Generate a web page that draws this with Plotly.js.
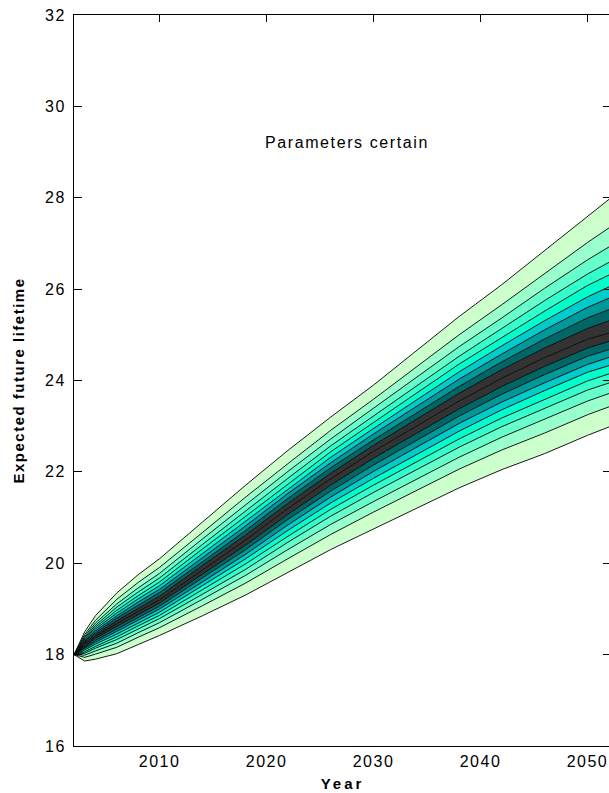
<!DOCTYPE html>
<html>
<head>
<meta charset="utf-8">
<script src="https://cdn.plot.ly/plotly-3.0.1.min.js"></script>
<style>
  html, body { margin: 0; padding: 0; overflow: hidden; background: #fff; }
  #chart { width: 621px; height: 793px; }
  .xtick text, .ytick text { letter-spacing: 1.5px; }
  .annotation-text { letter-spacing: 1.6px; }
  .g-xtitle text { letter-spacing: 3px; }
  .g-ytitle text { letter-spacing: 1.5px; }
  /* the reference carries x tick marks only on the top frame edge: keep the upper half of each tick path */
  path.xtick { clip-path: polygon(-10px -10px, 10px -10px, 10px 50%, -10px 50%) fill-box; }
</style>
</head>
<body>
<div id="chart"></div>
<script>
// ---- data ----
const years = [2002, 2003, 2004, 2006, 2008, 2010, 2014, 2018, 2022, 2026, 2030, 2034, 2038, 2042, 2046, 2050, 2052.2];

const q05 = [18, 17.86, 17.90, 18.02, 18.22, 18.42, 18.85, 19.30, 19.80, 20.30, 20.75, 21.20, 21.65, 22.05, 22.40, 22.80, 23.00];
const q10 = [18, 17.94, 18.01, 18.16, 18.38, 18.59, 19.07, 19.56, 20.10, 20.63, 21.12, 21.59, 22.06, 22.48, 22.85, 23.25, 23.44];
const q15 = [18, 17.99, 18.08, 18.25, 18.48, 18.70, 19.21, 19.73, 20.30, 20.85, 21.35, 21.84, 22.32, 22.76, 23.15, 23.55, 23.73];
const q20 = [18, 18.03, 18.14, 18.33, 18.56, 18.79, 19.32, 19.86, 20.46, 21.03, 21.55, 22.05, 22.54, 22.99, 23.39, 23.79, 23.96];
const q25 = [18, 18.06, 18.18, 18.39, 18.63, 18.86, 19.42, 19.98, 20.59, 21.18, 21.71, 22.22, 22.72, 23.18, 23.59, 23.99, 24.16];
const q30 = [18, 18.10, 18.23, 18.45, 18.69, 18.93, 19.51, 20.09, 20.72, 21.32, 21.86, 22.38, 22.89, 23.36, 23.78, 24.18, 24.34];
const q35 = [18, 18.13, 18.27, 18.51, 18.75, 19.00, 19.59, 20.19, 20.84, 21.45, 22.01, 22.53, 23.06, 23.53, 23.95, 24.35, 24.52];
const q40 = [18, 18.16, 18.31, 18.56, 18.81, 19.06, 19.68, 20.29, 20.96, 21.58, 22.15, 22.69, 23.22, 23.70, 24.13, 24.53, 24.69];
const q45 = [18, 18.19, 18.36, 18.62, 18.88, 19.13, 19.76, 20.39, 21.07, 21.71, 22.30, 22.84, 23.38, 23.87, 24.31, 24.71, 24.87];
const q50 = [18, 18.22, 18.40, 18.68, 18.94, 19.20, 19.85, 20.50, 21.20, 21.85, 22.45, 23.00, 23.55, 24.05, 24.50, 24.90, 25.05];
const q55 = [18, 18.25, 18.44, 18.74, 19.01, 19.28, 19.95, 20.61, 21.31, 21.97, 22.58, 23.15, 23.72, 24.24, 24.71, 25.14, 25.32];
const q60 = [18, 18.27, 18.48, 18.80, 19.08, 19.36, 20.03, 20.71, 21.42, 22.09, 22.70, 23.29, 23.87, 24.41, 24.91, 25.37, 25.57];
const q65 = [18, 18.29, 18.52, 18.85, 19.15, 19.43, 20.12, 20.81, 21.53, 22.20, 22.83, 23.43, 24.03, 24.58, 25.11, 25.60, 25.82];
const q70 = [18, 18.32, 18.56, 18.91, 19.22, 19.51, 20.21, 20.91, 21.63, 22.32, 22.95, 23.57, 24.19, 24.76, 25.31, 25.83, 26.07];
const q75 = [18, 18.34, 18.60, 18.97, 19.29, 19.59, 20.31, 21.02, 21.74, 22.44, 23.08, 23.72, 24.36, 24.94, 25.52, 26.08, 26.33];
const q80 = [18, 18.37, 18.64, 19.04, 19.37, 19.68, 20.41, 21.14, 21.86, 22.57, 23.22, 23.87, 24.53, 25.14, 25.75, 26.33, 26.61];
const q85 = [18, 18.40, 18.69, 19.11, 19.46, 19.78, 20.53, 21.27, 22.01, 22.72, 23.39, 24.06, 24.74, 25.37, 26.02, 26.64, 26.95];
const q90 = [18, 18.44, 18.75, 19.21, 19.58, 19.91, 20.67, 21.44, 22.18, 22.91, 23.59, 24.30, 25.00, 25.66, 26.35, 27.02, 27.37];
const q95 = [18, 18.50, 18.85, 19.35, 19.75, 20.10, 20.90, 21.70, 22.47, 23.20, 23.90, 24.65, 25.40, 26.10, 26.85, 27.60, 28.00];

const yTicks = [16, 18, 20, 22, 24, 26, 28, 30, 32];
const xTicks = [2010, 2020, 2030, 2040, 2050];

// ---- styles ----
const quantiles = [q05, q10, q15, q20, q25, q30, q35, q40, q45, q50, q55, q60, q65, q70, q75, q80, q85, q90, q95];
const bandColors = ['#ccffcc', '#99ffcc', '#66ffcc', '#33ffcc', '#00ffcc', '#00cccc', '#009999', '#006666', '#333333',
                    '#333333', '#006666', '#009999', '#00cccc', '#00ffcc', '#33ffcc', '#66ffcc', '#99ffcc', '#ccffcc'];

const traces = quantiles.map((q, i) => {
  const t = {
    x: years, y: q, type: 'scatter', mode: 'lines',
    line: { color: '#000000', width: 0.9 },
    hoverinfo: 'skip', showlegend: false
  };
  if (i > 0) { t.fill = 'tonexty'; t.fillcolor = bandColors[i - 1]; }
  return t;
});

const font = { family: '"Liberation Sans", Arial, sans-serif', color: '#000000' };

const layout = {
  width: 621, height: 793,
  margin: { l: 74, r: 10, t: 15, b: 47, pad: 0 },
  paper_bgcolor: '#ffffff', plot_bgcolor: '#ffffff',
  showlegend: false,
  font: font,
  xaxis: {
    range: [2002, 2052.2], tickvals: xTicks, ticktext: xTicks.map(String),
    ticks: 'inside', ticklen: 7, tickcolor: '#000000', tickwidth: 1,
    showline: true, mirror: 'ticks', linecolor: '#000000', linewidth: 1,
    showgrid: false, zeroline: false,
    tickfont: Object.assign({}, font, { size: 16 }),
    ticklabelstandoff: 1,
    title: { text: '<b>Year</b>', font: Object.assign({}, font, { size: 15 }), standoff: 9 }
  },
  yaxis: {
    range: [16, 32], tickvals: yTicks, ticktext: yTicks.map(String),
    ticks: 'inside', ticklen: 8, tickcolor: '#000000', tickwidth: 1,
    showline: true, mirror: 'ticks', linecolor: '#000000', linewidth: 1,
    showgrid: false, zeroline: false,
    tickfont: Object.assign({}, font, { size: 16 }),
    ticklabelstandoff: 4,
    title: { text: '<b>Expected future lifetime</b>', font: Object.assign({}, font, { size: 15 }), standoff: 16 }
  },
  annotations: [{
    xref: 'paper', yref: 'paper', x: 0.509, y: 0.825,
    text: 'Parameters certain', showarrow: false,
    font: Object.assign({}, font, { size: 16 }),
    xanchor: 'center', yanchor: 'middle'
  }]
};

Plotly.newPlot('chart', traces, layout, { displayModeBar: false, staticPlot: true });
</script>
</body>
</html>
